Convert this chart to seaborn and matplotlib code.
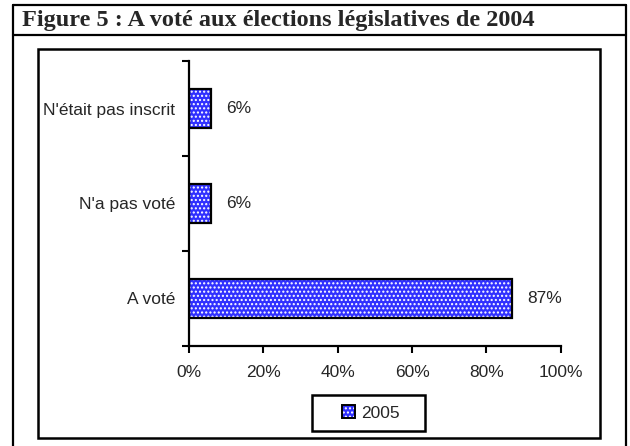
import matplotlib
matplotlib.use("Agg")
import matplotlib.pyplot as plt
from matplotlib.patches import Rectangle
from matplotlib.lines import Line2D
from matplotlib.legend_handler import HandlerTuple
import seaborn as sns

categories = ["N'était pas inscrit", "N'a pas voté", "A voté"]
values = [6, 6, 87]
series_name = "2005"
xticks = [0, 20, 40, 60, 80, 100]
title = "Figure 5 : A voté aux élections législatives de 2004"

sns.set_style("white")
plt.rcParams["font.family"] = ["Liberation Sans", "DejaVu Sans"]
plt.rcParams["hatch.linewidth"] = 1.0

fig = plt.figure(figsize=(6.3, 4.46), dpi=100)
ax = fig.add_axes([0.30, 0.225, 0.59, 0.6375])

bar_blue = "#3030ff"
sns.barplot(x=values, y=categories, orient="h", width=0.41, color=bar_blue,
            saturation=1, ax=ax)
for p in ax.patches:
    p.set_facecolor(bar_blue)
    p.set_edgecolor("white")
    p.set_hatch("....")
    p.set_linewidth(0)
# contours noirs par dessus
outline = ax.barh(range(len(values)), values, height=0.41, fill=False,
                  edgecolor="black", linewidth=1.6)

ax.bar_label(outline, labels=[f"{v}%" for v in values], padding=11, fontsize=12.5)

ax.set_xlim(0, 100)
ax.set_ylim(2.5, -0.5)
ax.set_xticks(xticks)
ax.set_xticklabels([f"{t}%" for t in xticks], fontsize=12.5)
ax.set_yticks(range(len(categories)))
ax.set_yticklabels(categories, fontsize=12.5)
ax.set_yticks([-0.5, 0.5, 1.5, 2.5], minor=True)
ax.tick_params(axis="y", which="major", left=True, length=0, pad=10)
ax.tick_params(axis="y", which="minor", left=True, length=5, width=1.5, direction="out", color="black")
ax.tick_params(axis="x", bottom=True, length=5, width=1.5, direction="out", color="black", pad=9)
ax.set_xlabel("")
ax.set_ylabel("")
sns.despine(ax=ax, top=True, right=True)
for s in ["left", "bottom"]:
    ax.spines[s].set_color("black")
    ax.spines[s].set_linewidth(1.6)

# legende (cadre dessiné à part, plus large)
leg_fill = Rectangle((0, 0), 1, 1, facecolor=bar_blue, edgecolor="white", hatch="....",
                     linewidth=0)
leg_edge = Rectangle((0, 0), 1, 1, fill=False, edgecolor="black", linewidth=1.4)
leg = fig.legend([(leg_fill, leg_edge)], [series_name], loc="center",
                 bbox_to_anchor=(0.588, 0.074), fontsize=12.5, frameon=False,
                 handlelength=0.75, handleheight=0.75, handletextpad=0.35, borderpad=0.3,
                 handler_map={tuple: HandlerTuple(ndivide=1, pad=0)})
fig.add_artist(Rectangle((0.4952, 0.0336), 0.1794, 0.0807, fill=False, edgecolor="black",
                         lw=1.8, transform=fig.transFigure))

# cadres
fig.add_artist(Line2D([0.0206, 0.0206], [0.989, -0.01], color="black", lw=1.6))
fig.add_artist(Line2D([0.9937, 0.9937], [0.989, -0.01], color="black", lw=1.6))
fig.add_artist(Line2D([0.0206, 0.9937], [0.989, 0.989], color="black", lw=1.6))
fig.add_artist(Line2D([0.0206, 0.9937], [0.9215, 0.9215], color="black", lw=1.6))
fig.add_artist(Rectangle((0.0603, 0.018), 0.8917, 0.872, fill=False, edgecolor="black",
                         lw=1.8, transform=fig.transFigure))

fig.text(0.035, 0.955, title, fontsize=17.5, fontweight="bold", va="center", ha="left",
         family=["Liberation Serif", "DejaVu Serif"])

fig.savefig("out.png", dpi=100)
